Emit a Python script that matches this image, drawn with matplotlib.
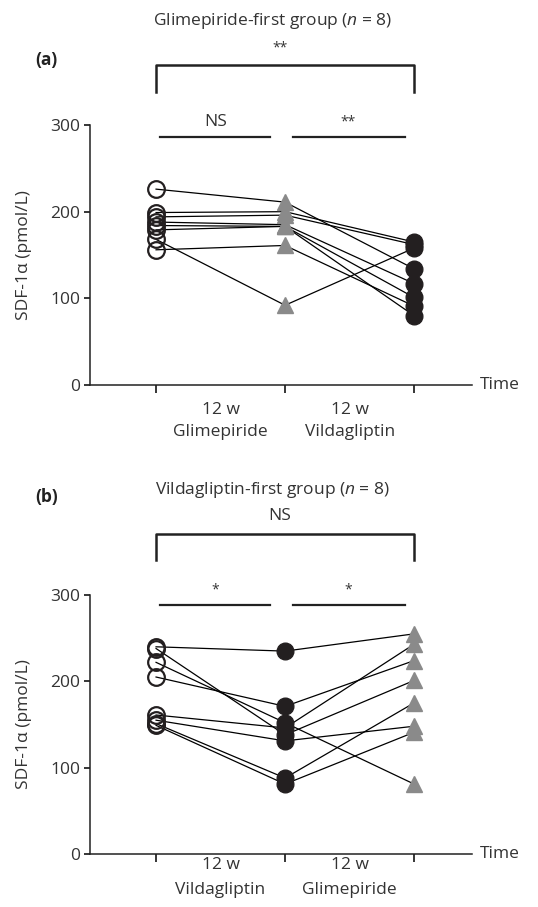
import numpy as np
import matplotlib
matplotlib.use("Agg")
import matplotlib.pyplot as plt

plt.rcParams['font.family'] = ['Open Sans', 'DejaVu Sans']
plt.rcParams['mathtext.fontset'] = 'custom'
plt.rcParams['mathtext.it'] = 'Open Sans:italic'
plt.rcParams['mathtext.rm'] = 'Open Sans'

# data: SDF-1alpha (pmol/L), one entry per patient
time_points = [1, 2, 3]

a_baseline = [226, 199, 194, 188, 184, 179, 168, 156]
a_glimepiride = [211, 200, 196, 185, 183, 183, 92, 161]
a_vildagliptin = [134, 165, 162, 117, 101, 80, 158, 91]

b_baseline = [240, 238, 222, 205, 161, 155, 151, 149]
b_vildagliptin = [235, 138, 152, 171, 146, 131, 88, 81]
b_glimepiride = [255, 201, 81, 224, 243, 148, 175, 141]

a_labels = ['12 w\nGlimepiride', '12 w\nVildagliptin']
b_labels = ['12 w\nVildagliptin', '12 w\nGlimepiride']

TXT = '#333333'
DARK = '#231f20'
GREY = '#8a8a8a'
FS = 12.5

fig = plt.figure(figsize=(5.38, 9.07), dpi=100)
ax_a = fig.add_axes([90 / 538, 1 - 385 / 907, 382 / 538, 260 / 907])
ax_b = fig.add_axes([90 / 538, 1 - 854 / 907, 382 / 538, 259 / 907])


def draw_panel(ax, first, second, third, second_style, third_style, labels,
               title, top_mark, left_mark, right_mark, dy, lab_pad, lab_space):
    for v0, v1, v2 in zip(first, second, third):
        ax.plot(time_points, [v0, v1, v2], color='black', lw=0.9, zorder=1)
    ax.plot([1] * len(first), first, 'o', ms=12, mfc='none', mec=DARK,
            mew=1.6, zorder=2, clip_on=False)
    for x, vals, style in [(2, second, second_style), (3, third, third_style)]:
        if style == 'tri':
            ax.plot([x] * len(vals), vals, '^', ms=11, color=GREY, mec=GREY,
                    zorder=3, clip_on=False)
        else:
            ax.plot([x] * len(vals), vals, 'o', ms=12, color=DARK, mec=DARK,
                    zorder=3, clip_on=False)

    ax.set_xlim(0.488, 3.449)
    ax.set_ylim(0, 300)
    ax.spines['top'].set_visible(False)
    ax.spines['right'].set_visible(False)
    for s in ['left', 'bottom']:
        ax.spines[s].set_linewidth(1.1)
        ax.spines[s].set_color('#222222')
    ax.set_yticks([0, 100, 200, 300])
    ax.tick_params(axis='y', length=4, width=1.1, labelsize=FS,
                   labelcolor=TXT, pad=3)
    ax.set_xticks(time_points)
    ax.set_xticklabels([])
    ax.tick_params(axis='x', which='major', length=5.5, width=1.1)
    ax.set_xticks([1.5, 2.5], minor=True)
    ax.set_xticklabels(labels, minor=True)
    ax.tick_params(axis='x', which='minor', length=0, labelsize=FS,
                   labelcolor=TXT, pad=lab_pad)
    for lab in ax.get_xticklabels(minor=True):
        lab.set_linespacing(lab_space)
    ax.set_ylabel('SDF-1α (pmol/L)', fontsize=FS, color=TXT)
    ax.yaxis.set_label_coords(-0.152, 0.5)
    ax.text(1.021, 0, 'Time', transform=ax.transAxes, ha='left', va='center',
            fontsize=FS, color=TXT)

    # significance brackets
    ax.plot([1, 1, 3, 3], [338 + dy, 369 + dy, 369 + dy, 338 + dy],
            color='#222222', lw=1.8, clip_on=False)
    ax.plot([1.03, 1.88], [286 + dy, 286 + dy], color='#222222', lw=1.6,
            clip_on=False)
    ax.plot([2.06, 2.93], [286 + dy, 286 + dy], color='#222222', lw=1.6,
            clip_on=False)
    small = 10 if '*' in left_mark else FS
    ax.text(1.46, 304 + dy, left_mark, ha='center', va='center',
            fontsize=small, color=TXT)
    small = 10 if '*' in right_mark else FS
    ax.text(2.49, 304 + dy, right_mark, ha='center', va='center',
            fontsize=small, color=TXT)
    small = 10 if '*' in top_mark else FS
    ax.text(1.96, 389 + dy, top_mark, ha='center', va='center',
            fontsize=small, color=TXT)
    ax.text(1.9, 420 + dy, title, ha='center', va='center', fontsize=FS,
            color=TXT)


draw_panel(ax_a, a_baseline, a_glimepiride, a_vildagliptin, 'tri', 'dot',
           a_labels, 'Glimepiride-first group ($n$ = 8)', '**', 'NS', '**', 0,
           12, 1.55)
draw_panel(ax_b, b_baseline, b_vildagliptin, b_glimepiride, 'dot', 'tri',
           b_labels, 'Vildagliptin-first group ($n$ = 8)', 'NS', '*', '*', 2,
           2.5, 1.75)

fig.text(35 / 538, 1 - 60 / 907, '(a)', fontsize=FS, fontweight='bold',
         color='#222222', va='center', ha='left')
fig.text(35 / 538, 1 - 497 / 907, '(b)', fontsize=FS, fontweight='bold',
         color='#222222', va='center', ha='left')

fig.savefig('out.png', dpi=100)
